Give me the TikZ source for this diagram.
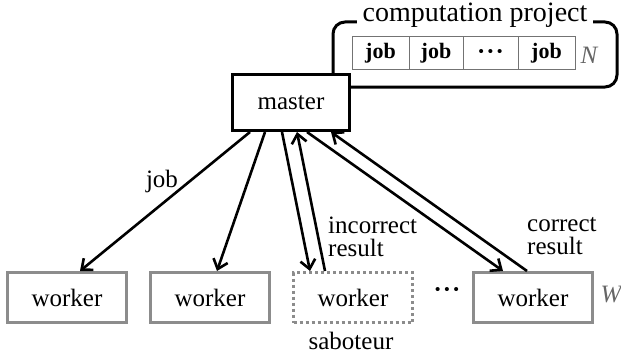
\documentclass[tikz,border=0pt]{standalone}
\usepackage{fontspec}
\setmainfont{Liberation Serif}
\usetikzlibrary{arrows.meta,calc}
\newcommand{\bigdots}{{\fontsize{15}{15}\selectfont\bfseries •\hspace{4pt}•\hspace{4pt}•}}
\tikzset{
  wbox/.style={draw=black!45, line width=3pt, minimum width=119pt, minimum height=50pt, inner sep=0pt, font=\fontsize{25}{27}\selectfont},
  sabbox/.style={wbox, dash pattern=on 3pt off 3pt},
  mbox/.style={draw=black, line width=3pt, fill=white, minimum width=117pt, minimum height=56pt, inner sep=0pt, font=\fontsize{25}{27}\selectfont},
  cell/.style={draw=black!55, line width=1pt, minimum height=33pt, inner sep=0pt, font=\fontsize{22}{24}\selectfont\bfseries},
  lbl/.style={font=\fontsize{25}{23}\selectfont, inner sep=0pt, align=left},
  link/.style={line width=2.6pt, -{Straight Barb[length=9pt,width=15pt,line width=2.6pt]}}
}
\begin{document}
\begin{tikzpicture}[x=1pt,y=-1pt]
  \useasboundingbox (0,0) rectangle (621,361);
  % computation project frame and its job queue
  \node[draw=black, line width=3pt, rounded corners=12pt, minimum width=284pt, minimum height=65pt] (project) at (475,54.5) {};
  \node[fill=white, inner xsep=6pt, inner ysep=2pt, font=\fontsize{28}{29}\selectfont] (title) at (475,15) {computation project};
  \node[cell, minimum width=57pt] (c1) at (380.5,53.5) {job};
  \node[cell, minimum width=54pt] (c2) at (436,53.5) {job};
  \node[cell, minimum width=55pt] (c3) at (490.5,53.5) {\bigdots};
  \node[cell, minimum width=57pt] (c4) at (546.5,53.5) {job};
  \node[font=\fontsize{25}{25}\selectfont\itshape, text=black!60] (N) at (589,55) {N};
  % master
  \node[mbox] (master) at (291,102.5) {master};
  % workers
  \node[wbox] (w1) at (67,297.5) {worker};
  \node[wbox] (w2) at (210,297.5) {worker};
  \node[sabbox] (w3) at (353,297.5) {worker};
  \node[wbox] (w4) at (533,297.5) {worker};
  \node[inner sep=0pt] (dots) at (447,291) {\bigdots};
  \node[font=\fontsize{25}{25}\selectfont\itshape, text=black!60] (W) at (611,295) {W};
  \node[lbl] (sab) at (351,341) {saboteur};
  % job dispatch and results
  \draw[link] ([xshift=-41pt]master.south) -- ([xshift=13pt]w1.north);
  \draw[link] ([xshift=-26pt]master.south) -- ([xshift=7pt]w2.north);
  \draw[link] ([xshift=-9pt]master.south) -- ([xshift=-43pt]w3.north);
  \draw[link] ([xshift=-28pt]w3.north) -- ([xshift=6pt]master.south);
  \draw[link] ([xshift=16pt]master.south) -- ([xshift=-30pt]w4.north);
  \draw[link] ([xshift=-6pt]w4.north) -- ([xshift=40pt]master.south);
  \node[lbl] (joblbl) at (162,181) {job};
  \node[lbl, anchor=north west] (inc) at (328,217) {incorrect\\result};
  \node[lbl, anchor=north west] (cor) at (527,217) {correct\\result};
\end{tikzpicture}
\end{document}
